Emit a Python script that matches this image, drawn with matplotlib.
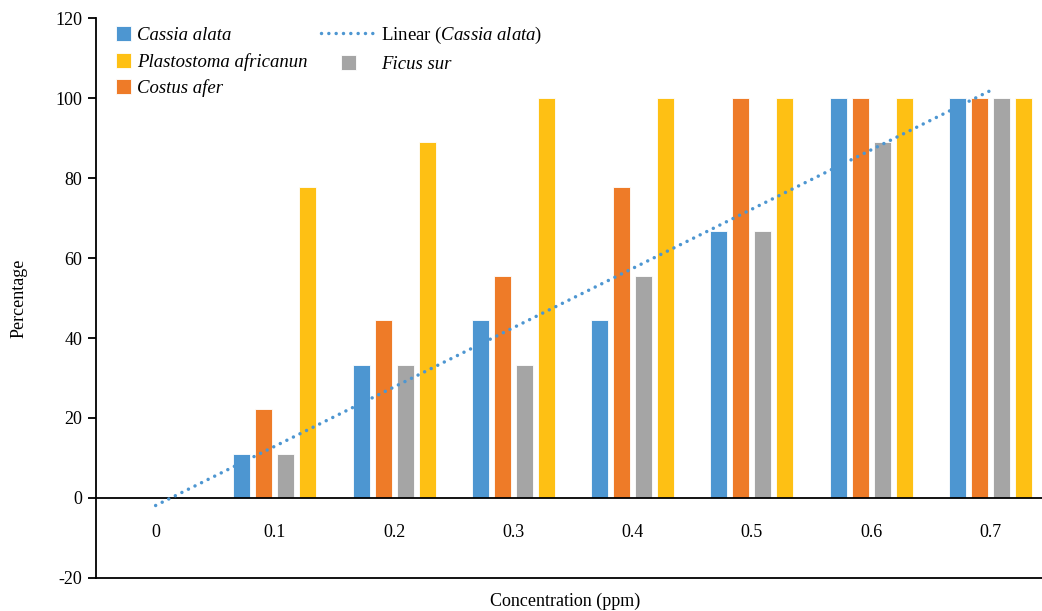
import numpy as np
import matplotlib.pyplot as plt

plt.rcParams['font.family'] = ['Liberation Serif', 'DejaVu Serif']
plt.rcParams['mathtext.fontset'] = 'custom'
plt.rcParams['mathtext.rm'] = 'Liberation Serif'
plt.rcParams['mathtext.it'] = 'Liberation Serif:italic'
plt.rcParams['axes.unicode_minus'] = False
plt.rcParams['font.size'] = 13

categories = ['0', '0.1', '0.2', '0.3', '0.4', '0.5', '0.6', '0.7']
cassia = [0, 11.1, 33.3, 44.4, 44.4, 66.7, 100, 100]
costus = [0, 22.2, 44.4, 55.6, 77.8, 100, 100, 100]
ficus = [0, 11.1, 33.3, 33.3, 55.6, 66.7, 88.9, 100]
plasto = [0, 77.8, 88.9, 100, 100, 100, 100, 100]

c_blue = '#4D96D1'
c_orange = '#EE7B28'
c_gray = '#A5A5A5'
c_yellow = '#FEC014'

fig = plt.figure(figsize=(10.42, 6.11), dpi=100)
# the plot area runs a little past the right edge, as in the source
ax = fig.add_axes([96 / 1042, 33 / 611, 954 / 1042, 560 / 611])

x = np.arange(len(categories))
w = 0.143
step = 0.184
series = [
    (cassia, c_blue, 'Cassia alata'),
    (costus, c_orange, 'Costus afer'),
    (ficus, c_gray, 'Ficus sur'),
    (plasto, c_yellow, 'Plastostoma africanun'),
]
bars = {}
for i, (vals, col, name) in enumerate(series):
    bars[name] = ax.bar(x + (i - 1.5) * step, vals, w, color=col,
                        edgecolor='white', linewidth=0.6, zorder=2)

# linear trendline for Cassia alata (Excel uses x = 1..n)
xn = np.arange(1, len(categories) + 1)
slope, icpt = np.polyfit(xn, cassia, 1)
trend, = ax.plot(x, slope * xn + icpt, color=c_blue, linestyle=(0, (0.01, 2.1)),
                 linewidth=2.5, dash_capstyle='round', zorder=3)

ax.set_xlim(-0.5, len(categories) - 0.5)
ax.set_ylim(-20, 120)
ax.set_yticks(np.arange(-20, 121, 20))
ax.tick_params(axis='y', direction='out', length=6, width=1.3, labelsize=13, pad=4)
ax.set_xticks(x)
ax.set_xticklabels(categories)
ax.tick_params(axis='x', length=0, pad=19, labelsize=13)

for s in ['top', 'right']:
    ax.spines[s].set_visible(False)
ax.spines['left'].set_linewidth(1.3)
ax.spines['bottom'].set_position(('data', 0))
ax.spines['bottom'].set_linewidth(1.3)
ax.axhline(-20, color='black', linewidth=1.3, clip_on=False)

ax.set_ylabel('Percentage', fontsize=13, labelpad=20)
ax.set_xlabel('Concentration (ppm)', fontsize=13)
ax.xaxis.set_label_coords(469 / 954, -0.026)

handles = [bars['Cassia alata'], bars['Plastostoma africanun'], bars['Costus afer'],
           trend, bars['Ficus sur']]
labels = ['Cassia alata', 'Plastostoma africanun', 'Costus afer',
          r'Linear ($\it{Cassia\ alata}$)', 'Ficus sur']
leg_fs = 13.5
hlen = 2.88
leg = fig.legend(handles, labels, ncol=2, loc='upper left',
                 bbox_to_anchor=(77 / 1042, 1 - 25 / 611), borderaxespad=0, borderpad=0,
                 frameon=False, fontsize=leg_fs, handlelength=hlen, handleheight=0.85,
                 columnspacing=0.75, labelspacing=0.46, handletextpad=0.3)
for t in leg.get_texts():
    if not t.get_text().startswith('Linear'):
        t.set_fontstyle('italic')
# square markers for the bar entries: right-aligned in column 1, centred for Ficus sur
hl = hlen * leg_fs
for idx, h in enumerate(leg.legend_handles):
    if hasattr(h, 'set_width'):
        side = h.get_height()
        h.set_width(side)
        shift = (hl - side) / 2 if idx == 4 else hl - side
        h.set_x(h.get_x() + shift)

fig.savefig('out.png', dpi=100)
